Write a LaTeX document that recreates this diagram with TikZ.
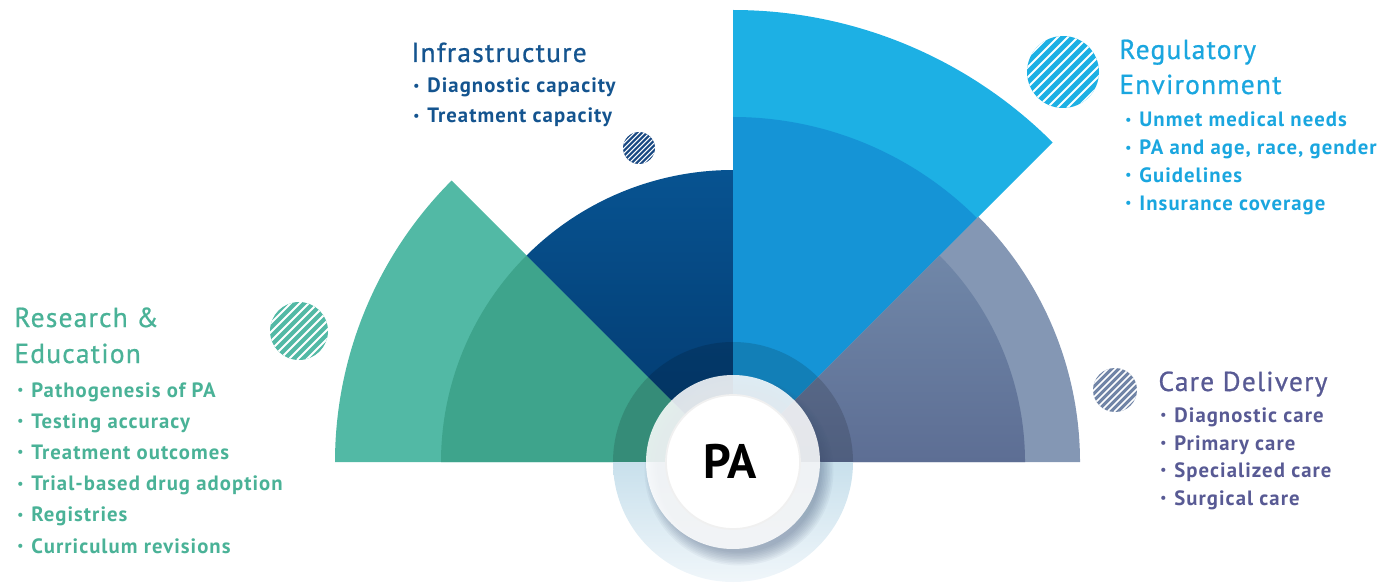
\documentclass[tikz,border=0pt]{standalone}
\usepackage{fontspec}
\setmainfont{PT Sans}
\newfontfamily\itemfont[LetterSpace=5]{PT Sans}
\newfontfamily\titlefont[LetterSpace=4.5,FakeBold=0.8]{PT Sans}
\usetikzlibrary{positioning,calc}
\definecolor{tealA}{RGB}{82,185,165}
\definecolor{tealB}{RGB}{62,164,140}
\definecolor{navyA}{RGB}{7,83,145}
\definecolor{navyB}{RGB}{3,56,108}
\definecolor{skyA}{RGB}{29,176,228}
\definecolor{skyB}{RGB}{21,148,214}
\definecolor{slateA}{RGB}{132,151,180}
\definecolor{slateB}{RGB}{112,135,168}
\definecolor{slateC}{RGB}{93,110,148}
\definecolor{tealtxt}{RGB}{74,178,151}
\definecolor{navytxt}{RGB}{20,84,143}
\definecolor{skytxt}{RGB}{26,166,223}
\definecolor{slatetxt}{RGB}{88,90,148}
\definecolor{navydot}{RGB}{24,72,130}
\definecolor{slatedot}{RGB}{112,132,166}
\definecolor{haloA}{RGB}{200,224,236}
\definecolor{haloB}{RGB}{240,246,250}
\definecolor{shadowc}{RGB}{60,80,115}
\tikzset{
    every picture/.style={line width=0.5pt},
    title/.style={anchor=base west,inner sep=0pt,font=\titlefont\fontsize{15.6}{18}\selectfont},
    item/.style={anchor=base west,inner sep=0pt,font=\itemfont\bfseries\fontsize{11.8}{14}\selectfont},
    hatch/.style 2 args={path picture={
        \foreach \k in {-14,...,14}
            \draw[white,line width=#2]
                ($(path picture bounding box.south west)+(\k*#1,0)$) -- ++(120,120);}}
}
\newcommand{\bul}[1]{\makebox[0.28cm][l]{\raisebox{0.25ex}{\scalebox{0.65}{•}}}#1}

\begin{document}
\begin{tikzpicture}[x=0.02cm,y=0.02cm]
    \useasboundingbox (0,0) rectangle (1398,582);
    \coordinate (C) at (733,120);

    % sectors
    \fill[tealA] (C) -- ++(180:398) arc[start angle=180,end angle=135,radius=398] -- cycle;
    \fill[tealB] (C) -- ++(180:292) arc[start angle=180,end angle=135,radius=292] -- cycle;
    \shade[top color=navyA,bottom color=navyB] (C) -- ++(135:292) arc[start angle=135,end angle=90,radius=292] -- cycle;
    \fill[skyA] (C) -- ++(90:452) arc[start angle=90,end angle=45,radius=452] -- cycle;
    \fill[skyB] (C) -- ++(90:345) arc[start angle=90,end angle=45,radius=345] -- cycle;
    \fill[slateA] (C) -- ++(45:347) arc[start angle=45,end angle=0,radius=347] -- cycle;
    \shade[top color=slateB,bottom color=slateC] (C) -- ++(45:292) arc[start angle=45,end angle=0,radius=292] -- cycle;

    % halo round the centre
    \fill[black,opacity=0.14] (C) -- ++(0:120) arc[start angle=0,end angle=180,radius=120] -- cycle;
    \shade[top color=haloA,bottom color=haloB] (C) -- ++(180:120) arc[start angle=180,end angle=360,radius=120] -- cycle;

    % centre disc
    \foreach \s in {1,...,9}
        \fill[shadowc,opacity=0.05] ($(C)+(6,-9)$) circle ({80+\s*1.6});
    \fill[white,opacity=0.86] (C) circle (87);
    \fill[white] (C) circle (67);
    \draw[black!6,line width=1pt] (C) circle (67);
    \node[font=\bfseries\fontsize{27.5}{30}\selectfont] (pa) at (730,121) {PA};

    % hatched dots
    \path[fill=tealA,hatch={9}{1.1pt}] (299,251) circle (29);
    \path[fill=navydot,hatch={5}{0.6pt}] (639,434) circle (16);
    \path[fill=skyA,hatch={10}{1.1pt}] (1063,510) circle (36);
    \path[fill=slatedot,hatch={7}{0.9pt}] (1115,192) circle (22);

    % Research & Education
    \node[title,text=tealtxt] (resTitle) at (14,255) {Research \&};
    \node[title,text=tealtxt] (resTitleB) at (14,219) {Education};
    \foreach \txt [count=\i] in {Pathogenesis of PA,Testing accuracy,Treatment outcomes,
        Trial-based drug adoption,Registries,Curriculum revisions}
        \node[item,text=tealtxt] (res\i) at (17,{185-(\i-1)*31.2}) {\bul{\txt}};

    % Infrastructure
    \node[title,text=navytxt] (infTitle) at (411,520) {Infrastructure};
    \foreach \txt [count=\i] in {Diagnostic capacity,Treatment capacity}
        \node[item,text=navytxt] (inf\i) at (413,{489-(\i-1)*30}) {\bul{\txt}};

    % Regulatory Environment
    \node[title,text=skytxt] (regTitle) at (1119,523) {Regulatory};
    \node[title,text=skytxt] (regTitleB) at (1119,488) {Environment};
    \foreach \txt [count=\i] in {Unmet medical needs,{PA and age, race, gender},Guidelines,Insurance coverage}
        \node[item,text=skytxt] (reg\i) at (1125,{455-(\i-1)*27.7}) {\bul{\txt}};

    % Care Delivery
    \node[title,text=slatetxt] (careTitle) at (1158,191) {Care Delivery};
    \foreach \txt [count=\i] in {Diagnostic care,Primary care,Specialized care,Surgical care}
        \node[item,text=slatetxt] (care\i) at (1160,{159.5-(\i-1)*27.5}) {\bul{\txt}};
\end{tikzpicture}
\end{document}
